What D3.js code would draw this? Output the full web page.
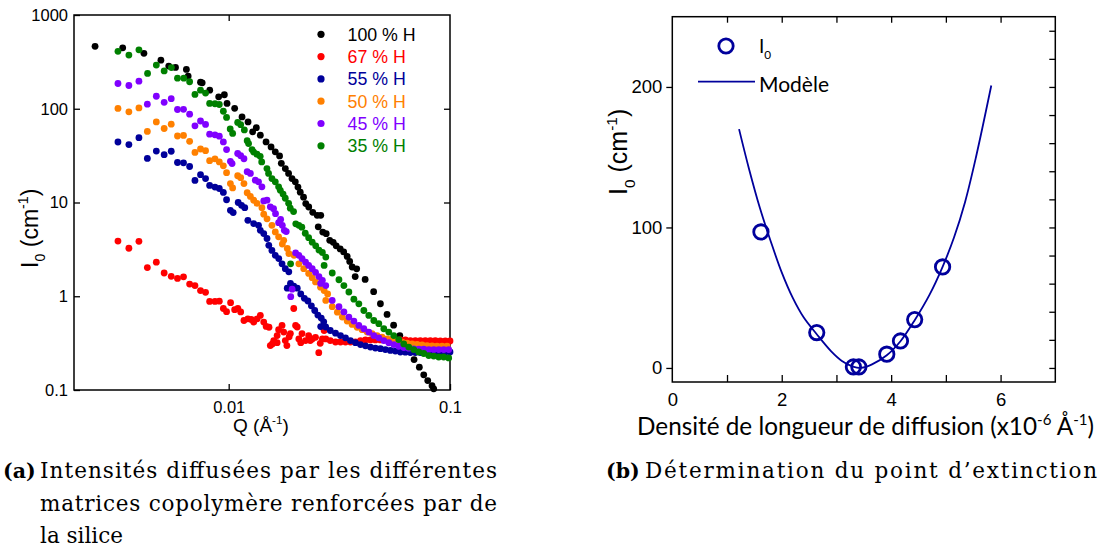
<!DOCTYPE html>
<html>
<head>
<meta charset="utf-8">
<script src="https://cdn.jsdelivr.net/npm/d3@7"></script>
<style>
  body { margin: 0; background: #fff; }
  svg { display: block; }
</style>
</head>
<body>
<svg id="fig" width="1109" height="551"></svg>
<script>
// ---- (a) SANS intensities, [Q (Å^-1), I (cm^-1)] for each hydrogenated fraction ----
const s100 = [[0.00249,463],[0.00332,447],[0.00414,390],[0.00494,330],[0.00536,285],[0.00575,276],[0.00644,263],[0.00656,223],[0.00746,192],[0.00759,189],[0.00821,158],[0.00901,134],[0.00956,141],[0.00983,114],[0.01064,101],[0.01149,81.9],[0.01223,72.4],[0.01283,56.7],[0.01333,62.8],[0.0139,52.2],[0.01475,44.3],[0.01554,39.2],[0.01624,34.7],[0.01698,31.4],[0.01729,26.2],[0.01803,23.0],[0.01865,20.4],[0.01932,18.0],[0.0200,16.6],[0.02056,14.6],[0.02106,12.9],[0.02179,11.4],[0.0223,9.73],[0.023,8.95],[0.02398,7.86],[0.02512,7.30],[0.02606,7.30],[0.02539,5.50],[0.02661,4.84],[0.02759,4.65],[0.02861,3.95],[0.02967,3.76],[0.03061,3.45],[0.03191,3.20],[0.03309,2.97],[0.03431,2.66],[0.03522,2.35],[0.03614,2.05],[0.03787,1.96],[0.03729,1.62],[0.04136,1.51],[0.04519,1.12],[0.04848,0.832],[0.05196,0.640],[0.05562,0.491],[0.05933,0.381],[0.06397,0.286],[0.06881,0.211],[0.07269,0.175],[0.07609,0.145],[0.07932,0.126],[0.08294,0.111],[0.08442,0.103]];

const s67 = [[0.00316,3.88],[0.00354,3.25],[0.00393,3.85],[0.00429,2.02],[0.00471,2.31],[0.00511,1.77],[0.0055,1.63],[0.00587,1.55],[0.00625,1.61],[0.00666,1.35],[0.00704,1.30],[0.00746,1.15],[0.00786,1.10],[0.0082,0.88],[0.00867,0.88],[0.00907,0.886],[0.00946,0.74],[0.00978,0.685],[0.0102,0.853],[0.01064,0.72],[0.011,0.74],[0.01133,0.68],[0.01172,0.551],[0.01221,0.575],[0.01264,0.565],[0.01297,0.53],[0.01345,0.575],[0.0139,0.624],[0.0144,0.53],[0.01477,0.476],[0.01521,0.467],[0.01542,0.298],[0.01574,0.31],[0.01598,0.337],[0.01655,0.381],[0.01655,0.32],[0.01681,0.44],[0.01742,0.488],[0.01773,0.415],[0.01802,0.337],[0.01832,0.298],[0.01876,0.37],[0.019,0.40],[0.01968,0.74],[0.02006,0.488],[0.0204,0.47],[0.02075,0.351],[0.02117,0.32],[0.02145,0.40],[0.02225,0.337],[0.02298,0.381],[0.02336,0.337],[0.02384,0.35],[0.02468,0.365],[0.02553,0.25],[0.02592,0.315],[0.0265,0.351],[0.02699,0.431],[0.02746,0.351],[0.02877,0.337],[0.03039,0.325],[0.03201,0.325],[0.03371,0.325],[0.0355,0.325],[0.0374,0.325],[0.0394,0.337],[0.0415,0.342],[0.0437,0.342],[0.046,0.342],[0.04847,0.342],[0.05106,0.342],[0.05378,0.342],[0.05665,0.342],[0.05966,0.342],[0.06285,0.342],[0.0662,0.337],[0.06973,0.337],[0.07344,0.337],[0.07736,0.337],[0.08149,0.337],[0.08584,0.337],[0.09042,0.333],[0.09524,0.333],[0.1,0.333]];

const s55 = [[0.00316,44.2],[0.00354,41.5],[0.00393,49.2],[0.00429,29.5],[0.00471,35.4],[0.00511,32.4],[0.0055,35.2],[0.00587,26.7],[0.00625,26.5],[0.00666,24.2],[0.00704,17.2],[0.00746,19.8],[0.00786,18.0],[0.0082,15.2],[0.00867,14.6],[0.00907,14.1],[0.00946,12.8],[0.00978,10.7],[0.01018,8.26],[0.01048,7.8],[0.01104,10.0],[0.01143,9.33],[0.01182,8.8],[0.01221,6.45],[0.01297,5.96],[0.01364,5.71],[0.0139,5.05],[0.0144,4.66],[0.0149,4.13],[0.01518,3.49],[0.01568,3.08],[0.01624,2.73],[0.01684,2.52],[0.01742,2.22],[0.01802,1.97],[0.01869,1.82],[0.01839,1.22],[0.01902,1.37],[0.01968,1.28],[0.02041,1.22],[0.02117,1.06],[0.02198,0.95],[0.0228,0.89],[0.02364,0.79],[0.02448,0.705],[0.02529,0.63],[0.0262,0.585],[0.02688,0.533],[0.02604,0.475],[0.02744,0.47],[0.02877,0.431],[0.03039,0.404],[0.03201,0.381],[0.03371,0.36],[0.0355,0.337],[0.0374,0.32],[0.0394,0.305],[0.0415,0.296],[0.0437,0.287],[0.046,0.28],[0.04847,0.276],[0.05106,0.27],[0.05378,0.264],[0.05665,0.26],[0.05966,0.254],[0.06285,0.253],[0.0662,0.251],[0.06973,0.251],[0.07344,0.251],[0.07736,0.253],[0.08149,0.253],[0.08584,0.254],[0.09042,0.254],[0.09524,0.254],[0.1,0.255]];

const s50 = [[0.00316,100.7],[0.00354,92.8],[0.00393,102],[0.00429,57.3],[0.00471,72.4],[0.00511,61.6],[0.0055,68.4],[0.00587,51.2],[0.00625,51.9],[0.00666,44.9],[0.00704,34.2],[0.00746,37.2],[0.00786,35.7],[0.0082,27.9],[0.00867,29.2],[0.00907,27.1],[0.00946,24.6],[0.00978,20.8],[0.01018,15.9],[0.01042,14.3],[0.01098,19.3],[0.01133,18.4],[0.01172,15.9],[0.01212,12.7],[0.01253,11.6],[0.01297,10.6],[0.01342,9.8],[0.01413,8.8],[0.0144,7.5],[0.0149,6.7],[0.01568,5.71],[0.01624,4.85],[0.01681,4.3],[0.01773,3.95],[0.01747,3.6],[0.0184,3.24],[0.01871,2.85],[0.01974,2.73],[0.02075,2.22],[0.02183,1.97],[0.02298,1.75],[0.02384,1.58],[0.02468,1.42],[0.026,1.25],[0.02699,1.15],[0.028,1.06],[0.02746,0.902],[0.02937,0.775],[0.03098,0.677],[0.03261,0.60],[0.03431,0.543],[0.03611,0.50],[0.03805,0.466],[0.04007,0.44],[0.04223,0.415],[0.04445,0.40],[0.04683,0.381],[0.04933,0.366],[0.05196,0.351],[0.05474,0.342],[0.05766,0.331],[0.06073,0.323],[0.06397,0.316],[0.06738,0.311],[0.07099,0.306],[0.07478,0.302],[0.07878,0.298],[0.08298,0.296],[0.08741,0.294],[0.09208,0.294],[0.097,0.294]];

const s45 = [[0.00316,186],[0.00354,177],[0.00393,197],[0.00429,112],[0.00471,136],[0.00511,117],[0.0055,128],[0.00587,98.2],[0.00625,98.5],[0.00666,87.6],[0.00704,65.7],[0.00746,74],[0.00786,68],[0.0082,53.5],[0.00867,52.7],[0.00907,51],[0.00946,44.3],[0.00978,36.7],[0.01018,27.5],[0.01036,26],[0.01098,33.3],[0.01133,31.6],[0.01172,29.3],[0.01212,21.3],[0.01253,20.4],[0.01319,17.3],[0.01364,16.6],[0.01413,14.7],[0.0144,10.4],[0.0149,10.6],[0.01542,9.0],[0.01595,8.6],[0.01628,7.6],[0.01681,6.1],[0.01717,6.6],[0.01747,5.71],[0.01784,5.05],[0.0182,4.9],[0.01907,0.99],[0.01935,1.19],[0.02006,2.9],[0.02075,2.73],[0.02145,2.52],[0.02225,2.31],[0.02298,2.13],[0.02384,1.97],[0.02468,1.8],[0.02557,1.62],[0.0265,1.48],[0.02604,1.37],[0.02745,1.30],[0.02936,0.902],[0.03149,0.775],[0.03316,0.68],[0.03492,0.60],[0.03679,0.543],[0.03874,0.488],[0.0408,0.45],[0.04298,0.415],[0.04527,0.381],[0.04768,0.36],[0.05022,0.337],[0.0529,0.319],[0.05572,0.305],[0.05869,0.293],[0.06182,0.284],[0.06511,0.279],[0.06858,0.275],[0.07224,0.273],[0.07609,0.272],[0.08015,0.27],[0.08443,0.27],[0.08893,0.27],[0.09367,0.27],[0.09866,0.27]];

const s35 = [[0.00316,410],[0.00354,374],[0.00393,425],[0.0043,238],[0.00471,292],[0.00511,253],[0.00551,275],[0.00587,212],[0.00627,212],[0.00666,194],[0.00704,142],[0.00746,158],[0.00786,147],[0.0082,114],[0.00867,113],[0.00907,111],[0.00946,94],[0.00978,80.8],[0.01016,61],[0.01042,54.5],[0.01098,71.4],[0.01133,67.6],[0.01177,59.5],[0.01212,45.7],[0.0123,42.5],[0.01275,36.7],[0.01297,34.5],[0.01342,32.7],[0.01388,31.1],[0.0141,27.1],[0.01489,23.0],[0.01514,20.4],[0.01568,18.0],[0.01624,16.6],[0.01681,14.7],[0.01711,13.5],[0.01761,12.3],[0.01802,11.1],[0.01866,9.8],[0.01898,8.7],[0.01964,8.0],[0.01904,2.22],[0.0201,5.93],[0.02075,5.71],[0.0214,5.46],[0.02218,4.7],[0.02298,4.22],[0.02384,3.77],[0.02473,3.45],[0.02558,3.11],[0.0265,2.93],[0.02747,2.62],[0.02699,2.13],[0.02937,1.77],[0.03149,1.50],[0.03316,1.30],[0.03492,1.11],[0.03679,0.93],[0.03874,0.83],[0.0408,0.705],[0.04298,0.624],[0.04527,0.551],[0.04768,0.51],[0.05022,0.45],[0.0529,0.415],[0.05572,0.381],[0.05869,0.345],[0.06182,0.31],[0.06511,0.287],[0.06858,0.27],[0.07224,0.255],[0.07609,0.245],[0.08015,0.233],[0.08443,0.23],[0.08893,0.225],[0.09367,0.225],[0.09866,0.22]];

const seriesData   = [s100, s67, s55, s50, s45, s35];
const seriesLabels = ["100 % H", "67 % H", "55 % H", "50 % H", "45 % H", "35 % H"];
const seriesColors = ["#000000", "#ff0000", "#00009a", "#ff8000", "#8000ff", "#008000"];
const qTicks = [0.01, 0.1];
const qTickLabels = ["0.01", "0.1"];
const iTicks = [0.1, 1, 10, 100, 1000];
const iTickLabels = ["0.1", "1", "10", "100", "1000"];

// ---- (b) forward intensity vs. scattering length density ----
const rho = [1.62, 2.64, 3.31, 3.41, 3.92, 4.17, 4.43, 4.94];
const i0  = [96.8, 25.2, 0.7, 0.7, 9.8, 19.2, 34.4, 71.9];
const modelRho = [1.22, 1.40, 1.60, 1.80, 2.00, 2.20, 2.40, 2.64, 2.90, 3.10, 3.30, 3.45, 3.65, 3.92, 4.17, 4.43, 4.70, 4.94, 5.15, 5.35, 5.55, 5.83];
const modelI   = [170, 142, 114, 90, 68, 50, 36, 24, 12, 5, 1, 0, 2.5, 9, 19, 34, 52, 72, 93, 118, 150, 201];
const rhoTicks = [0, 2, 4, 6];
const rhoMinor = [1, 2, 3, 4, 5, 6];
const i0Ticks = [0, 100, 200];
const i0Minor = [0, 20, 40, 60, 80, 100, 120, 140, 160, 180, 200, 220, 240];

const svg = d3.select("#fig");
const SANS = "'Liberation Sans', Arial, sans-serif";
const HUM = "Lato, 'Open Sans', sans-serif";
const SERIF = "'DejaVu Serif', 'Liberation Serif', serif";

// helper: text with sub/superscripts, parts = [[string, "sub"|"sup"|null], ...]
function richText(g, parts, size) {
  const t = g.append("text").attr("font-size", size);
  let shift = 0;
  parts.forEach(([s, kind]) => {
    const target = kind === "sup" ? -size * 0.42 : kind === "sub" ? size * 0.3 : 0;
    const ts = t.append("tspan").text(s).attr("dy", target - shift);
    if (kind) ts.attr("font-size", size * 0.62);
    shift = target;
  });
  return t;
}

// ================= panel (a) =================
const A = { l: 74, r: 450, t: 15, b: 390 };
const xA = d3.scaleLog().domain([0.002, 0.1]).range([A.l, A.r]);
const yA = d3.scaleLog().domain([0.1, 1000]).range([A.b, A.t]);
const gA = svg.append("g").attr("font-family", SANS);

const fmtQ = (d) => qTickLabels[qTicks.indexOf(d)];
const fmtI = (d) => iTickLabels[iTicks.indexOf(d)];

gA.append("g").attr("transform", `translate(0,${A.b})`)
  .call(d3.axisBottom(xA).tickValues(qTicks).tickFormat(fmtQ).tickSizeInner(-6).tickSizeOuter(0).tickPadding(11));
gA.append("g").attr("transform", `translate(0,${A.t})`)
  .call(d3.axisTop(xA).tickValues(qTicks.slice(0, 1)).tickFormat("").tickSizeInner(-6).tickSizeOuter(0));
gA.append("g").attr("transform", `translate(${A.l},0)`)
  .call(d3.axisLeft(yA).tickValues(iTicks).tickFormat(fmtI).tickSizeInner(-6).tickSizeOuter(0).tickPadding(6));
gA.append("g").attr("transform", `translate(${A.r},0)`)
  .call(d3.axisRight(yA).tickValues(iTicks.slice(1, 4)).tickFormat("").tickSizeInner(-6).tickSizeOuter(0));
gA.selectAll(".domain").remove();
gA.selectAll(".tick line").attr("stroke", "#000").attr("stroke-width", 1.3);
gA.selectAll(".tick text").attr("font-size", 16.5).attr("fill", "#000").attr("font-family", SANS);

gA.append("rect").attr("x", A.l).attr("y", A.t).attr("width", A.r - A.l).attr("height", A.b - A.t)
  .attr("fill", "none").attr("stroke", "#000").attr("stroke-width", 1.5);

// scattered points
seriesData.forEach((pts, k) => {
  gA.append("g").selectAll("circle").data(pts).join("circle")
    .attr("cx", (d) => xA(d[0])).attr("cy", (d) => yA(d[1])).attr("r", 3.4)
    .attr("fill", seriesColors[k]);
});

// legend
const legA = gA.append("g");
seriesLabels.forEach((lab, k) => {
  const yy = 34.3 + k * 22.3;
  legA.append("circle").attr("cx", 321).attr("cy", yy).attr("r", 3.6).attr("fill", seriesColors[k]);
  legA.append("text").attr("x", 347.5).attr("y", yy).attr("dy", "0.36em").attr("font-size", 17.8)
    .attr("fill", seriesColors[k]).text(lab);
});

// axis titles
richText(gA.append("g").attr("transform", "translate(233,432)"), [["Q (Å", null], ["-1", "sup"], [")", null]], 19);
richText(gA.append("g").attr("transform", "translate(38,268) rotate(-90)"),
  [["I", null], ["0", "sub"], [" (cm", null], ["-1", "sup"], [")", null]], 23);

// ================= panel (b) =================
const B = { l: 672.3, r: 1055.3, t: 16.7, b: 382 };
const xB = d3.scaleLinear().domain([0, 7]).range([B.l, B.r]);
const yB = d3.scaleLinear().domain([-10, 250]).range([B.b, B.t]);
const gB = svg.append("g").attr("font-family", SANS);
const blue = "#00009c";

gB.append("g").attr("transform", `translate(0,${B.b})`)
  .call(d3.axisBottom(xB).tickValues(rhoMinor).tickFormat("").tickSizeInner(-7).tickSizeOuter(0));
gB.append("g").attr("transform", `translate(0,${B.b})`)
  .call(d3.axisBottom(xB).tickValues(rhoTicks).tickFormat(d3.format("d")).tickSize(0).tickPadding(11));
gB.append("g").attr("transform", `translate(0,${B.t})`)
  .call(d3.axisTop(xB).tickValues(rhoMinor).tickFormat("").tickSizeInner(-6).tickSizeOuter(0));
gB.append("g").attr("transform", `translate(${B.l},0)`)
  .call(d3.axisLeft(yB).tickValues(i0Ticks).tickFormat(d3.format("d")).tickSizeInner(6).tickSizeOuter(0).tickPadding(4));
gB.append("g").attr("transform", `translate(${B.r},0)`)
  .call(d3.axisRight(yB).tickValues(i0Minor).tickFormat("").tickSizeInner(-6).tickSizeOuter(0));
gB.selectAll(".domain").remove();
gB.selectAll(".tick line").attr("stroke", "#000").attr("stroke-width", 1.3);
gB.selectAll(".tick text").attr("font-size", 18.5).attr("fill", "#000").attr("font-family", SANS);

gB.append("rect").attr("x", B.l).attr("y", B.t).attr("width", B.r - B.l).attr("height", B.b - B.t)
  .attr("fill", "none").attr("stroke", "#000").attr("stroke-width", 1.5);

const line = d3.line().x((d) => xB(d[0])).y((d) => yB(d[1])).curve(d3.curveCatmullRom.alpha(0.5));
gB.append("path").datum(modelRho.map((r, i) => [r, modelI[i]]))
  .attr("d", line).attr("fill", "none").attr("stroke", blue).attr("stroke-width", 1.8);

gB.append("g").selectAll("circle").data(rho.map((r, i) => [r, i0[i]])).join("circle")
  .attr("cx", (d) => xB(d[0])).attr("cy", (d) => yB(d[1])).attr("r", 7.2)
  .attr("fill", "none").attr("stroke", blue).attr("stroke-width", 2.8);

// legend
gB.append("circle").attr("cx", 726).attr("cy", 46).attr("r", 7.2).attr("fill", "none")
  .attr("stroke", blue).attr("stroke-width", 2.8);
richText(gB.append("g").attr("transform", "translate(759,53)").attr("font-family", HUM),
  [["I", null], ["0", "sub"]], 19);
gB.append("line").attr("x1", 698).attr("x2", 755).attr("y1", 81.7).attr("y2", 81.7)
  .attr("stroke", blue).attr("stroke-width", 1.8);
gB.append("text").attr("x", 759).attr("y", 91.5).attr("font-size", 21).attr("font-family", HUM)
  .attr("fill", "#000").text("Modèle");

// axis titles
richText(gB.append("g").attr("transform", "translate(637,435)").attr("font-family", HUM),
  [["Densité de longueur de diffusion (x10", null], ["-6", "sup"], [" Å", null], ["-1", "sup"], [")", null]], 24.3);
richText(gB.append("g").attr("transform", "translate(627,195) rotate(-90)"),
  [["I", null], ["0", "sub"], [" (cm", null], ["-1", "sup"], [")", null]], 25);

// ================= captions =================
const cap = svg.append("g").attr("font-family", SERIF).attr("font-size", 21.5).attr("fill", "#000");
cap.append("text").attr("x", 3).attr("y", 478).attr("font-weight", "bold").attr("font-size", 20.5).text("(a)");
cap.append("text").attr("x", 40).attr("y", 478).attr("textLength", 457).attr("lengthAdjust", "spacing")
  .text("Intensités diffusées par les différentes");
cap.append("text").attr("x", 40).attr("y", 511).attr("textLength", 457).attr("lengthAdjust", "spacing")
  .text("matrices copolymère renforcées par de");
cap.append("text").attr("x", 40).attr("y", 543).text("la silice");
cap.append("text").attr("x", 606).attr("y", 478).attr("font-weight", "bold").attr("font-size", 20.5).text("(b)");
cap.append("text").attr("x", 645).attr("y", 478).attr("textLength", 452).attr("lengthAdjust", "spacing")
  .text("Détermination du point d’extinction");
</script>
</body>
</html>
